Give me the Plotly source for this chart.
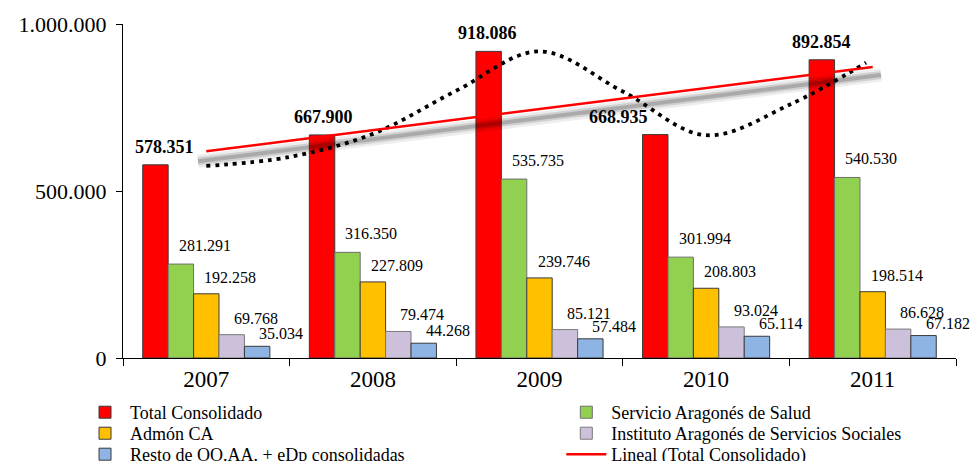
import plotly.graph_objects as go

# ---------------- data ----------------
years = [2007, 2008, 2009, 2010, 2011]
year_labels = ["2007", "2008", "2009", "2010", "2011"]

total_consolidado = [578351, 667900, 918086, 668935, 892854]
servicio_salud = [281291, 316350, 535735, 301994, 540530]
admon_ca = [192258, 227809, 239746, 208803, 198514]
instituto_ss = [69768, 79474, 85121, 93024, 86628]
resto_ooaa = [35034, 44268, 57484, 65114, 67182]

# dotted trend curve (year position, value)
poly_trend_x = [2007, 2007.5, 2008, 2008.5, 2009, 2009.5, 2010, 2010.5, 2010.96]
poly_trend_y = [575000, 602000, 671000, 800000, 918000, 798000, 667000, 758000, 884000]

y_tick_vals = [0, 500000, 1000000]
y_tick_labels = ["0", "500.000", "1.000.000"]

series_names = [
    "Total Consolidado",
    "Servicio Aragonés de Salud",
    "Admón CA",
    "Instituto Aragonés de Servicios Sociales",
    "Resto de OO.AA. + eDp consolidadas",
]
series_values = [total_consolidado, servicio_salud, admon_ca, instituto_ss, resto_ooaa]
trend_name = "Lineal (Total Consolidado)"

# ---------------- styles ----------------
colors = ["#FF0000", "#92D050", "#FFC000", "#CCC0DA", "#8DB4E2"]
outline = ["#3a3a3a", "#6f6f6f", "#3a3a3a", "#7a7a7a", "#3a3a3a"]
SERIF = "Liberation Serif, Times New Roman, serif"
BARGAP = 0.237
bar_w = (1 - BARGAP) / len(series_names)

label_xshift = [[9, 1, -1, -37, 0]] + [[24] * 5] * 4
label_yshift = [7, 8, 6, 6, 2]

# legend slots — two columns, three rows
legend_cols = [-0.0516, 0.5262]
legend_rows = [-0.1078, -0.1707, -0.2335]
legend_ids = ["legend", "legend2", "legend3", "legend4", "legend5", "legend6"]


def fmt(v):
    return f"{v:,}".replace(",", ".")


fig = go.Figure()

for k, (name, vals, c, oc) in enumerate(zip(series_names, series_values, colors, outline)):
    fig.add_trace(go.Bar(
        x=years, y=vals, name=name, legend=legend_ids[k],
        marker=dict(color=c, line=dict(color=oc, width=1)),
    ))

# linear trend (least squares on totals)
n = len(years)
mx = sum(years) / n
my = sum(total_consolidado) / n
slope = sum((x - mx) * (y - my) for x, y in zip(years, total_consolidado)) / sum((x - mx) ** 2 for x in years)
lin_y = [my + slope * (x - mx) for x in years]

# soft shadow beneath linear trend
shadow_off = 27000
for wdt, col in [(13, "rgba(0,0,0,0.07)"), (8, "rgba(0,0,0,0.12)"), (4, "rgba(0,0,0,0.18)")]:
    fig.add_trace(go.Scatter(
        x=[years[0] - 0.05, years[-1] + 0.05],
        y=[lin_y[0] - shadow_off - slope * 0.05, lin_y[-1] - shadow_off + slope * 0.05],
        mode="lines", line=dict(color=col, width=wdt),
        showlegend=False, hoverinfo="skip",
    ))

fig.add_trace(go.Scatter(
    x=poly_trend_x, y=poly_trend_y, mode="lines",
    line=dict(color="black", width=3.8, dash="3.8px,5px", shape="spline", smoothing=1.0),
    showlegend=False, hoverinfo="skip",
))

fig.add_trace(go.Scatter(
    x=[years[0], years[-1]], y=[lin_y[0], lin_y[-1]], mode="lines",
    name=trend_name, legend=legend_ids[5],
    line=dict(color="#FF0000", width=2.5),
))

# data labels
annotations = []
for j, vals in enumerate(series_values):
    for i, (yr, v) in enumerate(zip(years, vals)):
        txt = fmt(v)
        if j == 0:
            txt = "<b>" + txt + "</b>"
        annotations.append(dict(
            x=yr + (j - 2) * bar_w, y=v, xref="x", yref="y",
            text=txt, showarrow=False,
            yanchor="bottom", xanchor="center",
            xshift=label_xshift[j][i], yshift=label_yshift[j] - (1 if j == 0 else 0),
            font=dict(family=SERIF, size=18 if j == 0 else 16, color="black"),
        ))

legend_common = dict(
    orientation="v", xanchor="left", yanchor="top",
    font=dict(family=SERIF, size=18, color="black"),
    tracegroupgap=0, itemwidth=40, bgcolor="rgba(0,0,0,0)",
)
legend_layout = {}
for k, lid in enumerate(legend_ids):
    legend_layout[lid] = dict(x=legend_cols[k % 2], y=legend_rows[k // 2], **legend_common)

fig.update_layout(
    width=970, height=461,
    margin=dict(l=123, r=14, t=24, b=103, autoexpand=False),
    paper_bgcolor="white", plot_bgcolor="white",
    barmode="group", bargap=BARGAP, bargroupgap=0,
    font=dict(family=SERIF, color="black"),
    annotations=annotations,
    showlegend=True,
    **legend_layout,
)

fig.update_xaxes(
    range=[years[0] - 0.5, years[-1] + 0.5],
    tickvals=years, ticktext=year_labels, ticks="",
    tickfont=dict(family=SERIF, size=23, color="black"),
    showline=True, linecolor="black", linewidth=1,
    showgrid=False, zeroline=False,
    minor=dict(tickvals=[y - 0.5 for y in years] + [years[-1] + 0.5], ticks="outside",
               ticklen=7, tickcolor="black", tickwidth=1, showgrid=False),
)
fig.update_yaxes(
    range=[0, 1000000], tickvals=y_tick_vals, ticktext=y_tick_labels,
    ticks="outside", ticklen=6, tickcolor="black", ticklabelstandoff=5,
    tickfont=dict(family=SERIF, size=22, color="black"),
    showline=True, linecolor="black", linewidth=1,
    showgrid=False, zeroline=False,
)

fig.write_html("out.html", config={"displayModeBar": False},
               post_script="document.body.style.margin='0px';")
